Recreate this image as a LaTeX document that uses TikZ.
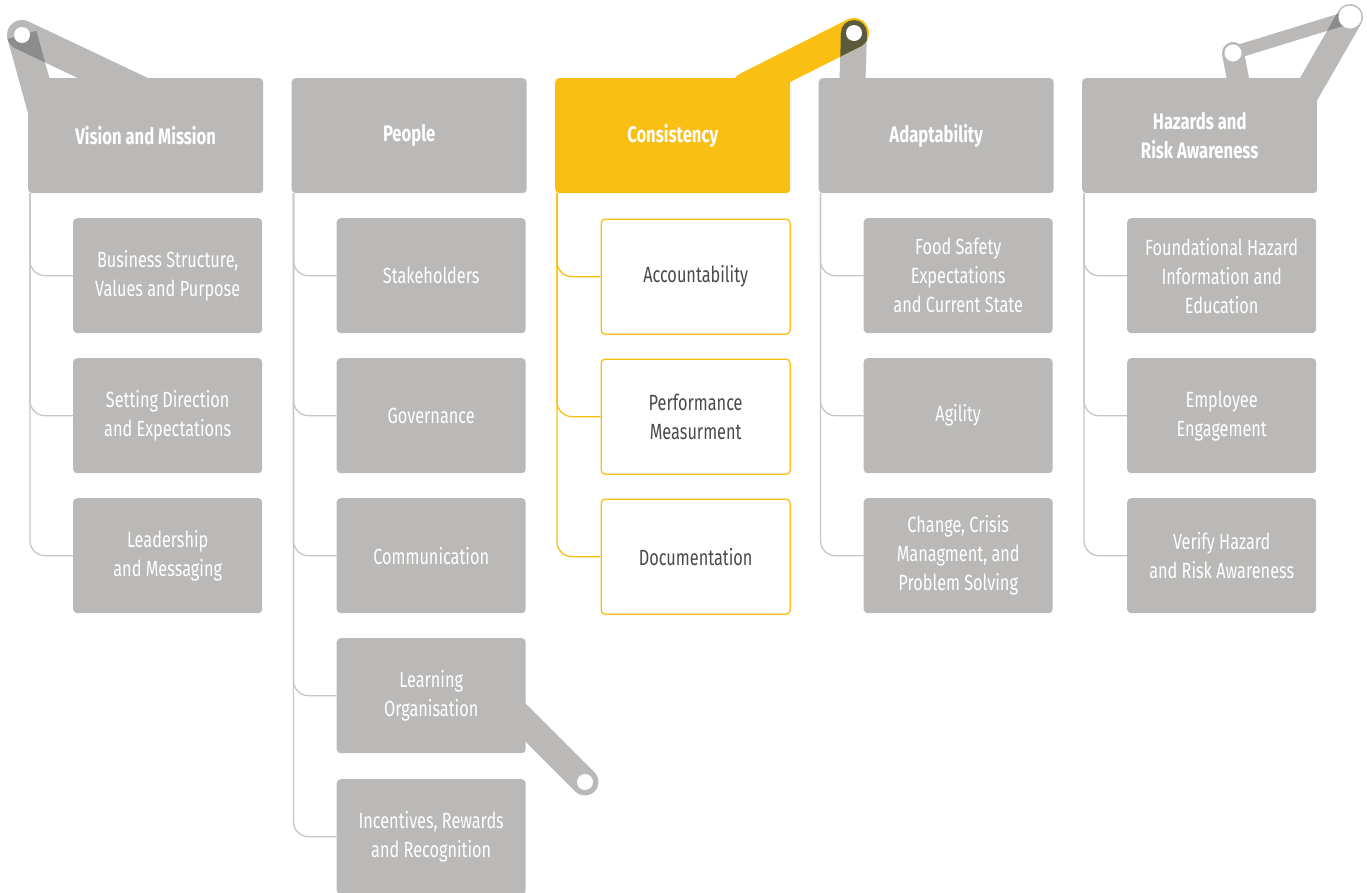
\documentclass[tikz,border=0pt]{standalone}
\usepackage{fontspec}
\setmainfont{Fira Sans}[FakeStretch=0.74]
\usetikzlibrary{calc}
\definecolor{boxg}{HTML}{BAB9B8}
\definecolor{lineg}{HTML}{C6C6C6}
\definecolor{yel}{HTML}{F9BF12}
\definecolor{darkg}{HTML}{8C8C8C}
\definecolor{olive}{HTML}{5C5A3D}
\definecolor{txtd}{HTML}{4A4A4A}
\newcommand\bandpoly[3]{($(#1)!#3!90:(#2)$) -- ($(#2)!#3!-90:(#1)$) -- ($(#2)!#3!90:(#1)$) -- ($(#1)!#3!-90:(#2)$) -- cycle}
\begin{document}
\begin{tikzpicture}[x=1pt,y=-1pt,
 hdr/.style={fill=boxg, rounded corners=4pt, text=white, align=center, inner sep=0pt,
   minimum width=235pt, minimum height=115pt, anchor=north west,
   font=\fontsize{22.5}{29}\selectfont\bfseries},
 hdry/.style={hdr, fill=yel},
 child/.style={fill=boxg, rounded corners=4pt, text=white, align=center, inner sep=0pt,
   minimum width=189pt, minimum height=115pt, anchor=north west,
   font=\fontsize{22}{29}\selectfont},
 childy/.style={child, fill=white, draw=yel, line width=1.3pt, text=txtd},
 conn/.style={draw=lineg, line width=1.3pt, rounded corners=15pt},
 conny/.style={conn, draw=yel}]
\useasboundingbox (0,0) rectangle (1367,892);
\clip (0,0) rectangle (1367,892);

% ---------- arms ----------
% arm 1 (Vision and Mission)
\coordinate (v1) at (22,35);
\coordinate (v1a) at (170,105);
\coordinate (v1b) at (46,122);
\draw[boxg, line width=30pt, line cap=round] (v1) -- (v1a);
\fill[boxg] \bandpoly{v1}{v1b}{15pt};
\begin{scope}
 \clip \bandpoly{v1}{v1b}{15pt};
 \fill[darkg] \bandpoly{v1}{v1a}{15pt};
 \fill[darkg] (v1) circle[radius=15];
\end{scope}
\fill[white] (v1) circle[radius=8];

% arm 2 (Learning Organisation)
\coordinate (v2) at (585,782);
\coordinate (v2e) at (500,697);
\draw[boxg, line width=27pt, line cap=round] (v2) -- (v2e);
\fill[white] (v2) circle[radius=8];

% arm 3 (Consistency / Adaptability)
\coordinate (v3) at (854,33);
\coordinate (v3y) at (747,87);
\coordinate (v3g) at (852,95);
\draw[boxg, line width=26pt, line cap=round] (v3) -- (v3g);
\draw[yel, line width=30pt, line cap=round] (v3) -- (v3y);
\begin{scope}
 \clip \bandpoly{v3}{v3y}{15pt};
 \fill[olive] \bandpoly{v3}{v3g}{13pt};
 \fill[olive] (v3) circle[radius=13];
\end{scope}
\begin{scope}
 \clip (v3) circle[radius=15];
 \fill[olive] \bandpoly{v3}{v3g}{13pt};
 \fill[olive] (v3) circle[radius=13];
\end{scope}
\fill[white] (v3) circle[radius=8];

% arm 5 (Hazards)
\coordinate (v5a) at (1233,53);
\coordinate (v5b) at (1350,17);
\coordinate (v5ae) at (1241,95);
\coordinate (v5be) at (1300,104);
\draw[boxg, line width=22pt, line cap=round] (v5a) -- (v5ae);
\draw[boxg, line width=26pt, line cap=round] (v5b) -- (v5be);
\draw[boxg, line width=13pt] (v5a) -- (v5b);
\begin{scope}
 \clip \bandpoly{v5a}{v5b}{6.5pt};
 \fill[darkg] \bandpoly{v5b}{v5be}{13pt};
 \fill[darkg] (v5b) circle[radius=13];
\end{scope}
\fill[white] (v5a) circle[radius=8.5];
\fill[white] (v5b) circle[radius=11.5];

% ---------- column 1 ----------
\node[hdr] (h1) at (28,78) {Vision and Mission};
\node[child] (c11) at (73,218) {Business Structure,\\Values and Purpose};
\node[child] (c12) at (73,358) {Setting Direction\\and Expectations};
\node[child] (c13) at (73,498) {Leadership\\and Messaging};
\foreach \c in {c11,c12,c13} \draw[conn] ([xshift=2pt]h1.south west) |- (\c.west);

% ---------- column 2 ----------
\node[hdr] (h2) at (291.5,78) {People};
\node[child] (c21) at (336.5,218) {Stakeholders};
\node[child] (c22) at (336.5,358) {Governance};
\node[child] (c23) at (336.5,498) {Communication};
\node[child] (c24) at (336.5,638) {Learning\\Organisation};
\node[child] (c25) at (336.5,779) {Incentives, Rewards\\and Recognition};
\foreach \c in {c21,c22,c23,c24,c25} \draw[conn] ([xshift=2pt]h2.south west) |- (\c.west);

% ---------- column 3 ----------
\node[hdry] (h3) at (555,78) {Consistency};
\node[childy] (c31) at (600.5,218.5) {Accountability};
\node[childy] (c32) at (600.5,358.5) {Performance\\Measurment};
\node[childy] (c33) at (600.5,498.5) {Documentation};
\foreach \c in {c31,c32,c33} \draw[conny] ([xshift=2pt]h3.south west) |- (\c.west);

% ---------- column 4 ----------
\node[hdr] (h4) at (818.5,78) {Adaptability};
\node[child] (c41) at (863.5,218) {Food Safety\\Expectations\\and Current State};
\node[child] (c42) at (863.5,358) {Agility};
\node[child] (c43) at (863.5,498) {Change, Crisis\\Managment, and\\Problem Solving};
\foreach \c in {c41,c42,c43} \draw[conn] ([xshift=2pt]h4.south west) |- (\c.west);

% ---------- column 5 ----------
\node[hdr] (h5) at (1082,78) {Hazards and\\Risk Awareness};
\node[child] (c51) at (1127,218) {Foundational Hazard\\Information and\\Education};
\node[child] (c52) at (1127,358) {Employee\\Engagement};
\node[child] (c53) at (1127,498) {Verify Hazard\\and Risk Awareness};
\foreach \c in {c51,c52,c53} \draw[conn] ([xshift=2pt]h5.south west) |- (\c.west);
\end{tikzpicture}
\end{document}
